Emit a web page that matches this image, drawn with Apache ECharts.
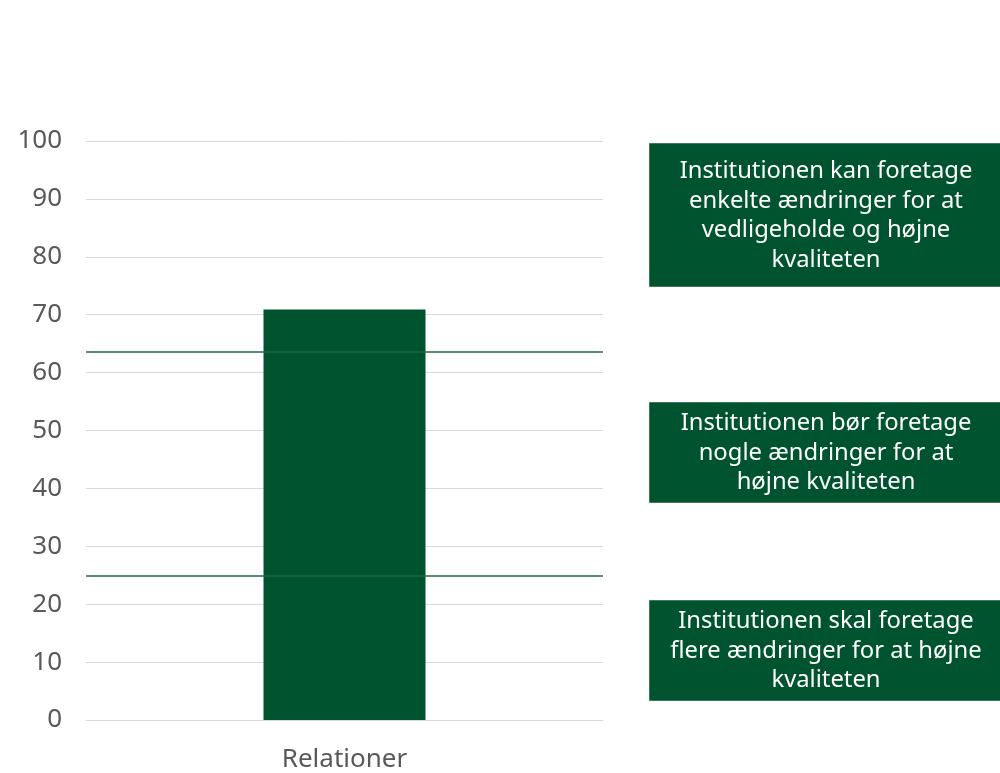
<!DOCTYPE html>
<html>
<head>
<meta charset="utf-8">
<script src="https://cdn.jsdelivr.net/npm/echarts@6/dist/echarts.min.js"></script>
<style>html,body{margin:0;padding:0;background:#fff}#c{width:1000px;height:773px}</style>
</head>
<body>
<div id="c"></div>
<script>
var categories = ['Relationer'];
var values = [70.9];
var thresholds = [63.6, 24.9];
var yTicks = {min: 0, max: 100, interval: 10};
var boxTexts = [
  'Institutionen kan foretage\nenkelte ændringer for at\nvedligeholde og højne\nkvaliteten',
  'Institutionen bør foretage\nnogle ændringer for at\nhøjne kvaliteten',
  'Institutionen skal foretage\nflere ændringer for at højne\nkvaliteten'
];

var GREEN = '#00532f';
var FONT = 'Noto Sans';
var chart = echarts.init(document.getElementById('c'));

var boxes = [
  {top: 143, height: 143},
  {top: 402, height: 100},
  {top: 600, height: 100}
];
var graphics = [];
boxes.forEach(function (b, i) {
  graphics.push({
    type: 'rect', left: 649, top: b.top,
    shape: {width: 356, height: b.height},
    style: {fill: GREEN, stroke: '#3f7a5a', lineWidth: 1}
  });
  graphics.push({
    type: 'text', x: 826, y: b.top + b.height / 2 + 1,
    style: {
      text: boxTexts[i], fill: '#ffffff', font: '23.8px "' + FONT + '"',
      align: 'center', verticalAlign: 'middle', lineHeight: 29.5
    }
  });
});

chart.setOption({
  animation: false,
  backgroundColor: '#ffffff',
  grid: {left: 86, right: 397, top: 141, bottom: 52, containLabel: false},
  xAxis: {
    type: 'category', data: categories,
    axisLine: {show: true, lineStyle: {color: '#d9d9d9', width: 1}},
    axisTick: {show: false},
    axisLabel: {color: '#595959', fontSize: 26, fontFamily: FONT, margin: 27}
  },
  yAxis: {
    type: 'value', min: yTicks.min, max: yTicks.max, interval: yTicks.interval,
    axisLine: {show: false}, axisTick: {show: false},
    splitLine: {lineStyle: {color: '#d9d9d9', width: 1}},
    axisLabel: {color: '#595959', fontSize: 26, fontFamily: FONT, margin: 24}
  },
  series: [{
    type: 'bar', data: values, barWidth: 162,
    itemStyle: {color: GREEN},
    markLine: {
      silent: true, symbol: 'none', label: {show: false},
      lineStyle: {color: '#1e6b45', width: 1.5, type: 'solid'},
      data: thresholds.map(function (t) { return {yAxis: t}; })
    }
  }],
  graphic: graphics
});
</script>
</body>
</html>
